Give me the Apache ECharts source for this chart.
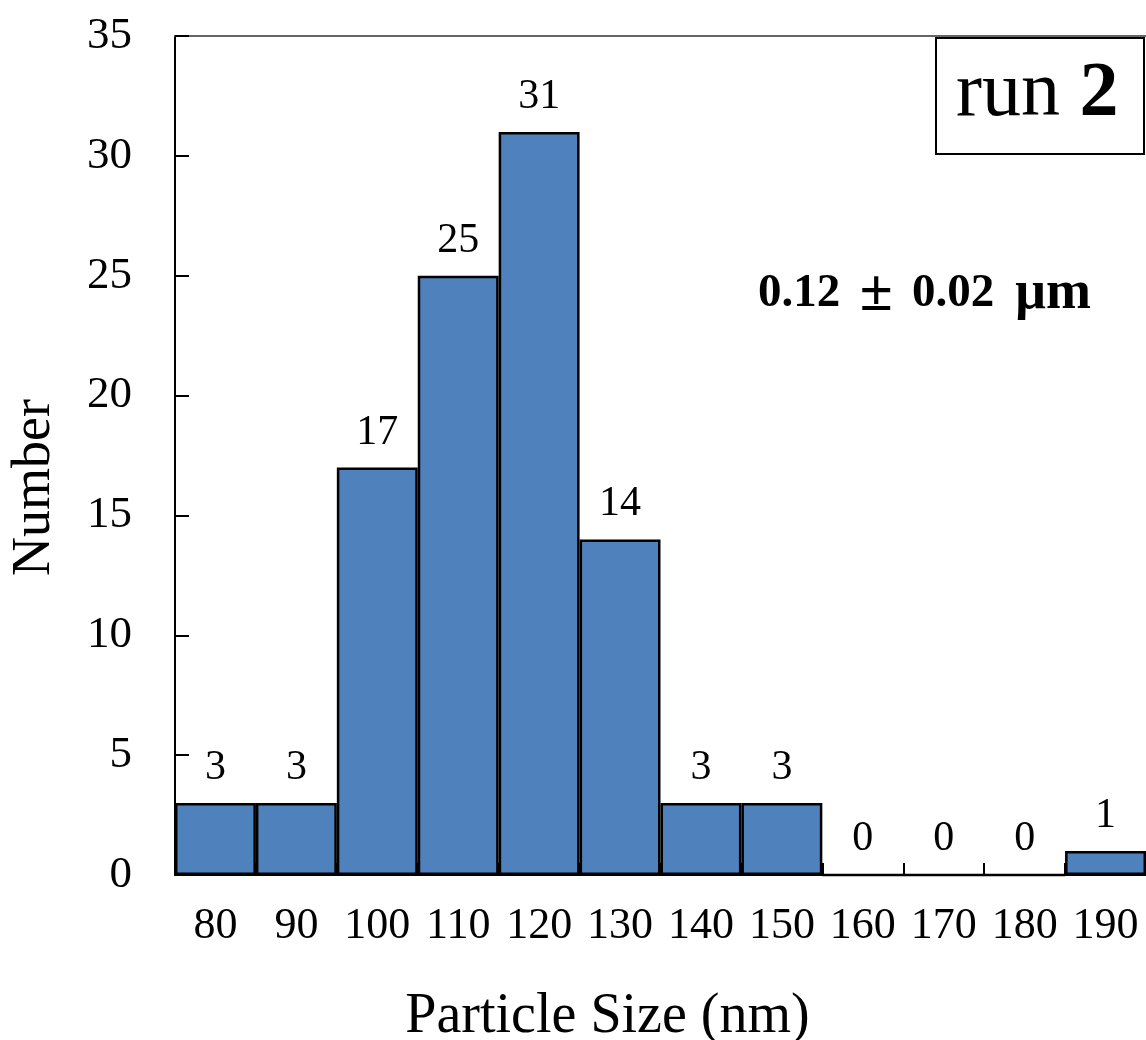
<!DOCTYPE html>
<html>
<head>
<meta charset="utf-8">
<script src="https://cdn.jsdelivr.net/npm/echarts@6/dist/echarts.min.js"></script>
<style>
  html, body { margin: 0; padding: 0; background: #fff; }
  #hist { width: 1146px; height: 1040px; }
</style>
</head>
<body>
<div id="hist"></div>
<script>
// particle size bins (nm) and counts per bin
var sizes = ['80', '90', '100', '110', '120', '130', '140', '150', '160', '170', '180', '190'];
var counts = [3, 3, 17, 25, 31, 14, 3, 3, 0, 0, 0, 1];
var yMin = 0, yMax = 35, yStep = 5;
var runLabel = 'run ';
var runNumber = '2';
var meanValue = '0.12';
var meanErr = '0.02';
var meanUnit = '\u03bcm';

var serif = '"Liberation Serif", "Times New Roman", serif';
var chart = echarts.init(document.getElementById('hist'));

var option = {
  backgroundColor: '#fff',
  animation: false,
  grid: {
    left: 175,
    right: 0,
    top: 36,
    bottom: 165,
    outerBoundsMode: 'none',
    containLabel: false
  },
  xAxis: [{
    type: 'category',
    data: sizes,
    position: 'bottom',
    name: 'Particle Size (nm)',
    nameLocation: 'middle',
    nameGap: 114,
    nameTextStyle: {
      fontFamily: serif,
      fontSize: 56,
      color: '#000',
      padding: [0, 106, 0, 0]
    },
    axisLine: { lineStyle: { color: '#000', width: 2 } },
    axisTick: { show: true, inside: true, length: 12, lineStyle: { color: '#000', width: 2 } },
    axisLabel: {
      fontFamily: serif,
      fontSize: 44,
      color: '#000',
      margin: 29,
      interval: 0
    }
  }, {
    type: 'category',
    data: sizes,
    position: 'top',
    axisLine: { lineStyle: { color: '#666', width: 2 } },
    axisTick: { show: false },
    axisLabel: { show: false }
  }],
  yAxis: {
    type: 'value',
    min: yMin,
    max: yMax,
    interval: yStep,
    name: 'Number',
    nameLocation: 'middle',
    nameGap: 113,
    nameRotate: 90,
    nameTextStyle: {
      fontFamily: serif,
      fontSize: 54,
      color: '#000',
      padding: [0, 64, 0, 0]
    },
    splitLine: { show: false },
    axisLine: { show: true, lineStyle: { color: '#000', width: 2 } },
    axisTick: { show: true, inside: true, length: 14, lineStyle: { color: '#000', width: 2 } },
    axisLabel: {
      fontFamily: serif,
      fontSize: 45,
      color: '#000',
      margin: 43
    }
  },
  series: [{
    type: 'bar',
    data: counts,
    barCategoryGap: 0,
    itemStyle: {
      color: '#4F81BD',
      borderColor: '#000',
      borderWidth: 2.5
    },
    label: {
      show: true,
      position: 'top',
      distance: 14,
      fontFamily: serif,
      fontSize: 42,
      color: '#000'
    }
  }],
  graphic: [{
    type: 'rect',
    left: 935,
    top: 37,
    shape: { width: 208, height: 116 },
    style: { fill: '#fff', stroke: '#000', lineWidth: 2 }
  }, {
    type: 'text',
    left: 956,
    top: 56,
    style: {
      text: '{a|' + runLabel + '}{b|' + runNumber + '}',
      rich: {
        a: { fontFamily: serif, fontSize: 78, fill: '#000' },
        b: { fontFamily: serif, fontSize: 78, fontWeight: 'bold', fill: '#000' }
      }
    }
  }, {
    type: 'text',
    left: 758,
    top: 264,
    style: {
      text: '{n|' + meanValue + '}{pm|\u00b1}{n|' + meanErr + '}{u|' + meanUnit + '}',
      rich: {
        n: { fontFamily: serif, fontSize: 47, fontWeight: 'bold', fill: '#000', width: 88, align: 'center' },
        pm: { fontFamily: serif, fontSize: 60, fontWeight: 'bold', fill: '#000', width: 66, align: 'center' },
        u: { fontFamily: serif, fontSize: 54, fontWeight: 'bold', fill: '#000', width: 112, align: 'center' }
      }
    }
  }]
};

chart.setOption(option);
</script>
</body>
</html>
